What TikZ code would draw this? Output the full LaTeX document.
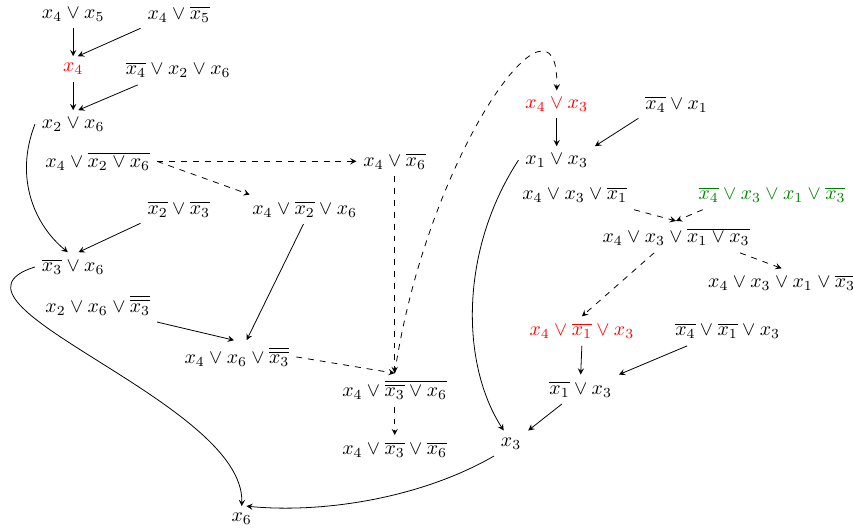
\documentclass[tikz,border=0pt]{standalone}
\usetikzlibrary{arrows}
\begin{document}
\begin{tikzpicture}[>=stealth,x=1.064cm,y=1.064cm]
\useasboundingbox (0,0) rectangle (14.22,8.82);

% left part
\node (x4x5) at (1.22,8.58) {\(x_4\vee x_5\)};
\node (x4nx5) at (2.98,8.58) {\(x_4\vee\overline{x_5}\)};
\node[red] (x4) at (1.22,7.67) {\(x_4\)};
\node (nx4x2x6) at (2.97,7.65) {\(\overline{x_4}\vee x_2\vee x_6\)};
\node (x2x6) at (1.22,6.75) {\(x_2\vee x_6\)};
\node (x4nx2x6) at (1.63,6.13) {\(x_4\vee\overline{x_2\vee x_6}\)};
\node (x4nx6) at (6.58,6.13) {\(x_4\vee\overline{x_6}\)};
\node (nx2nx3) at (2.98,5.33) {\(\overline{x_2}\vee\overline{x_3}\)};
\node (x4nx2x6b) at (5.08,5.33) {\(x_4\vee\overline{x_2}\vee x_6\)};
\node (nx3x6) at (1.22,4.37) {\(\overline{x_3}\vee x_6\)};
\node (x2x6nnx3) at (1.63,3.73) {\(x_2\vee x_6\vee\overline{\overline{x_3}}\)};
\node (x4x6nnx3) at (3.95,2.87) {\(x_4\vee x_6\vee\overline{\overline{x_3}}\)};
\node (x4nnx3x6) at (6.58,2.32) {\(x_4\vee\overline{\overline{x_3}\vee x_6}\)};
\node (x4nx3nx6) at (6.58,1.32) {\(x_4\vee\overline{x_3}\vee\overline{x_6}\)};
\node (x6) at (4.03,0.17) {\(x_6\)};

% right part
\node[red] (x4x3) at (9.28,7.08) {\(x_4\vee x_3\)};
\node (nx4x1) at (11.28,7.08) {\(\overline{x_4}\vee x_1\)};
\node (x1x3) at (9.28,6.15) {\(x_1\vee x_3\)};
\node (x4x3nx1) at (9.58,5.57) {\(x_4\vee x_3\vee\overline{x_1}\)};
\node[green!50!black] (nx4x3x1nx3) at (12.87,5.57) {\(\overline{x_4}\vee x_3\vee x_1\vee\overline{x_3}\)};
\node (x4x3nx1x3) at (11.27,4.87) {\(x_4\vee x_3\vee\overline{x_1\vee x_3}\)};
\node (x4x3x1nx3) at (13.03,4.1) {\(x_4\vee x_3\vee x_1\vee\overline{x_3}\)};
\node[red] (x4nx1x3) at (9.7,3.3) {\(x_4\vee\overline{x_1}\vee x_3\)};
\node (nx4nx1x3) at (12.13,3.3) {\(\overline{x_4}\vee\overline{x_1}\vee x_3\)};
\node (nx1x3) at (9.68,2.33) {\(\overline{x_1}\vee x_3\)};
\node (x3) at (8.52,1.43) {\(x_3\)};

\draw[->] (x4x5.south) -- (x4.north);
\draw[->] (x4nx5.200) -- (x4.70);
\draw[->] (x4.south) -- (x2x6.north);
\draw[->] (nx4x2x6.200) -- (x2x6.70);
\draw[->] (x2x6.west) .. controls +(-0.35,-0.9) and +(-0.55,0.45) .. (nx3x6.110);
\draw[->] (nx2nx3.200) -- (nx3x6.70);
\draw[->,dashed] (x4nx2x6.east) -- (x4nx6.west);
\draw[->,dashed] (x4nx2x6.east) -- (x4nx2x6b.165);
\draw[->] (x4nx2x6b.265) -- (x4x6nnx3.60);
\draw[->] (x2x6nnx3.south east) -- (x4x6nnx3.100);
\draw[->,dashed] (x4x6nnx3.east) -- (x4nnx3x6.north);
\draw[->,dashed] (x4nx6.south) -- (x4nnx3x6.north);
\draw[->,dashed] (x4nnx3x6.south) -- (x4nx3nx6.north);
\draw[->] (nx3x6.west) .. controls +(-1.9,-0.6) and +(0.05,1.75) .. (x6.north);
\draw[->,dashed] (x4nnx3x6.north) .. controls +(0.55,3.7) and +(0.05,1.97) .. (x4x3.north);

\draw[->] (x4x3.south) -- (x1x3.north);
\draw[->] (nx4x1.200) -- (x1x3.north east);
\draw[->] (x1x3.west) .. controls +(-0.98,-1.5) and +(-0.72,1.12) .. (x3.120);
\draw[->,dashed] (x4x3nx1.south east) -- (x4x3nx1x3.north);
\draw[->,dashed] (nx4x3x1nx3.192) -- (x4x3nx1x3.north);
\draw[->,dashed] (x4x3nx1x3.216) -- (x4nx1x3.north);
\draw[->,dashed] (x4x3nx1x3.-14) -- (x4x3x1nx3.north);
\draw[->] (x4nx1x3.south) -- (nx1x3.north);
\draw[->] (nx4nx1x3.200) -- (nx1x3.north east);
\draw[->] (nx1x3.218) -- (x3.north east);
\draw[->] (x3.south west) .. controls +(-1.25,-0.72) and +(1.23,-0.12) .. (x6.70);
\end{tikzpicture}
\end{document}
